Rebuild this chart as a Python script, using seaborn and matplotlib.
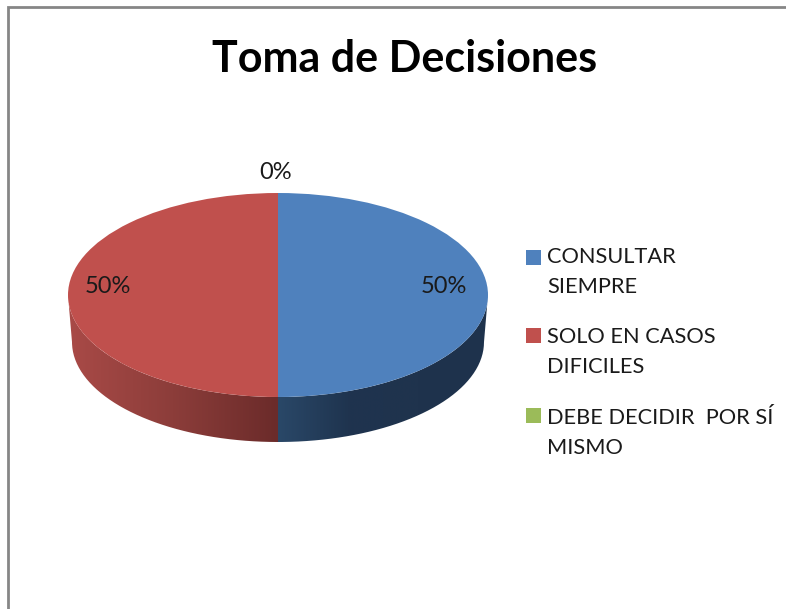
import numpy as np
import matplotlib
matplotlib.use('Agg')
import matplotlib.pyplot as plt
import seaborn as sns
from matplotlib.colors import LinearSegmentedColormap
from matplotlib.patches import PathPatch, Rectangle
from matplotlib.path import Path

title = 'Toma de Decisiones'
categories = ['CONSULTAR\nSIEMPRE', 'SOLO EN CASOS\nDIFICILES', 'DEBE DECIDIR  POR SÍ\nMISMO']
values = [50, 50, 0]
colors = ['#4f81bd', '#c0504d', '#9bbb59']
side_shades = [['#2a4868', '#1f344f', '#1f334d', '#1e324c'], ['#a94a47', '#8c3d3a', '#6b2b2a']]

W, H = 786, 609
CX, CY, RX, RY = 278, 295, 210, 102
CX2, CY2, RX2, RY2 = 278, 342, 206, 100

sns.set_theme(style='white')
plt.rcParams['font.family'] = ['Lato', 'DejaVu Sans']

fig = plt.figure(figsize=(W / 100, H / 100), dpi=100, facecolor='white')

# page axes in pixels
bg = fig.add_axes([0, 0, 1, 1])
bg.set_xlim(0, W)
bg.set_ylim(H, 0)
bg.axis('off')
bg.plot([8, 8, W], [H, 7, 7], color='#868686', lw=2, solid_joinstyle='miter')

# top face of the pie, squeezed to an ellipse
ax = fig.add_axes([(CX - RX) / W, 1 - (CY + RY) / H, 2 * RX / W, 2 * RY / H])
wedges, _, pcts = ax.pie(values, colors=colors, startangle=90, counterclock=False,
                         radius=1, autopct='%d%%', frame=False,
                         wedgeprops={'linewidth': 0},
                         textprops={'fontsize': 17, 'color': '#1a1a1a'})
ax.set_aspect('auto')
ax.set_xlim(-1, 1)
ax.set_ylim(-1, 1)
ax.axis('off')
ax.patch.set_alpha(0)

pcts[0].set_position((0.79, 0.08))
pcts[1].set_position((-0.81, 0.08))
pcts[2].set_position((-0.01, 1.20))
for t in pcts:
    t.set_clip_on(False)


# side wall: only the part of each wedge that faces the viewer
def side_path(a0, a1):
    t = np.radians(np.linspace(a0, a1, 80))
    top = np.column_stack([CX + RX * np.cos(t), CY - RY * np.sin(t)])
    low = np.column_stack([CX2 + RX2 * np.cos(t[::-1]), CY2 - RY2 * np.sin(t[::-1])])
    return Path(np.vstack([top, low, top[:1]]))


for w, shades in zip(wedges, side_shades):
    for off in (0, 360):
        a0 = max(w.theta1 + off, 180)
        a1 = min(w.theta2 + off, 360)
        if a1 <= a0:
            continue
        path = side_path(a0, a1)
        cmap = LinearSegmentedColormap.from_list('side', shades)
        x0, x1 = path.vertices[:, 0].min(), path.vertices[:, 0].max()
        im = bg.imshow(np.linspace(0, 1, 256).reshape(1, -1), cmap=cmap, aspect='auto',
                       extent=(x0, x1, CY2 + RY2 + 1, CY), zorder=1)
        clip = PathPatch(path, transform=bg.transData, facecolor='none', edgecolor='none')
        bg.add_patch(clip)
        im.set_clip_path(clip)
bg.set_xlim(0, W)
bg.set_ylim(H, 0)

fig.text(404.5 / W, 1 - 59 / H, title, ha='center', va='center', fontsize=31, fontweight='bold', color='black')

# legend by hand, the squares sit on the first line of each label
for label, color, sq_y, txt_y in zip(categories, colors, [250, 328, 408], [272, 352, 433]):
    bg.add_patch(Rectangle((526, sq_y), 15, 15, facecolor=color, edgecolor='none'))
    bg.text(547, txt_y, label, ha='left', va='center', fontsize=15.7, color='#1a1a1a', linespacing=1.62)

fig.savefig('out.png', dpi=100)
